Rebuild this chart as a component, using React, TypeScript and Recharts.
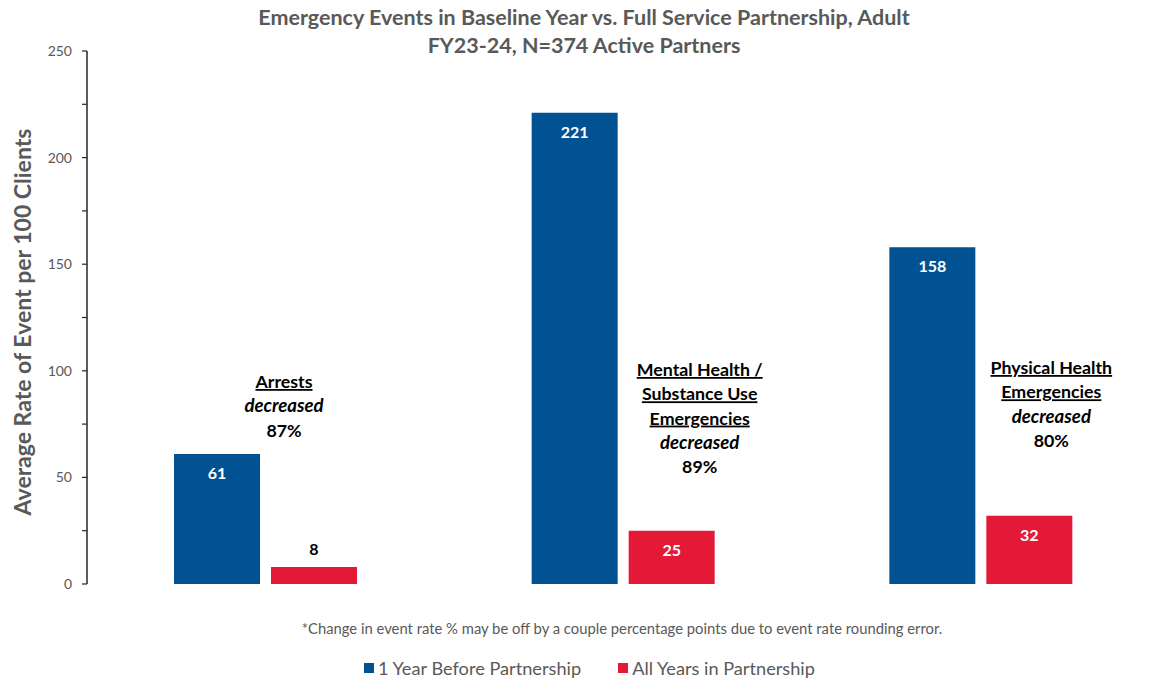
import React from "react";
import { BarChart, Bar, XAxis, YAxis, LabelList } from "recharts";

const categories = ["Arrests", "Mental Health / Substance Use Emergencies", "Physical Health Emergencies"];
const beforePartnership = [61, 221, 158];
const duringPartnership = [8, 25, 32];
const annotationTitles = [["Arrests"], ["Mental Health /", "Substance Use", "Emergencies"], ["Physical Health", "Emergencies"]];
const decreaseLabels = ["87%", "89%", "80%"];
const yTicks = [0, 25, 50, 75, 100, 125, 150, 175, 200, 225, 250];
const seriesNames = ["1 Year Before Partnership", "All Years in Partnership"];
const chartTitle = ["Emergency Events in Baseline Year vs. Full Service Partnership, Adult", "FY23-24, N=374 Active Partners"];
const yAxisTitle = "Average Rate of Event per 100 Clients";
const footnote = "*Change in event rate % may be off by a couple percentage points due to event rate rounding error.";

const data = categories.map((c, i) => ({ category: c, before: beforePartnership[i], during: duringPartnership[i] }));

const BLUE = "#005293";
const RED = "#E31937";
const GREY = "#595959";
const AXIS = "#262626";
const FONT = "Lato, 'Open Sans', sans-serif";

// layout offsets for the free-floating annotations (relative to right edge of blue bar)
const annotationDx = [24, 82, 76];
const annotationTop = [382, 370, 368];
const LINE_H = 24.3;

const BoundaryTick = (props: any) => {
  const { x, y, payload, index } = props;
  if (index >= categories.length - 1) return <g />;
  const half = payload && payload.offset != null ? payload.offset : 178.8;
  const bx = x + half;
  return <line x1={bx} x2={bx} y1={y - 6} y2={y} stroke={AXIS} strokeWidth={1.5} />;
};

const BeforeValueLabel = (props: any) => {
  const vb = props.viewBox || props;
  const { x, y, width } = vb;
  return (
    <text x={x + width / 2} y={y + 25} textAnchor="middle" fill="#fff" fontFamily={FONT} fontWeight={700} fontSize={16}>
      {props.value}
    </text>
  );
};

const DuringValueLabel = (props: any) => {
  const vb = props.viewBox || props;
  const { x, y, width, height } = vb;
  const inside = height > 30;
  return (
    <text
      x={x + width / 2}
      y={inside ? y + 25 : y - 12}
      textAnchor="middle"
      fill={inside ? "#fff" : "#000"}
      fontFamily={FONT}
      fontWeight={700}
      fontSize={16}
    >
      {props.value}
    </text>
  );
};

const AnnotationLabel = (props: any) => {
  const vb = props.viewBox || props;
  const { x, width } = vb;
  const i = props.index ?? 0;
  const cx = x + width + annotationDx[i];
  const top = annotationTop[i] + 6;
  const titles = annotationTitles[i];
  return (
    <g fontFamily={FONT} fontSize={17.8} fontWeight={700} fill="#000" textAnchor="middle">
      {titles.map((t, k) => (
        <text key={k} x={cx} y={top + k * LINE_H} style={{ textDecoration: "underline" }}>
          {t}
        </text>
      ))}
      <text x={cx} y={top + titles.length * LINE_H} fontStyle="italic" fontSize={18.6}>
        decreased
      </text>
      <text x={cx} y={top + (titles.length + 1) * LINE_H}>{decreaseLabels[i]}</text>
    </g>
  );
};

export default function App() {
  return (
    <div style={{ position: "absolute", left: 0, top: 0, width: 1150, height: 679, overflow: "hidden", background: "#fff", fontFamily: FONT }}>
      <div
        style={{
          position: "absolute",
          left: 234,
          width: 700,
          top: 3,
          textAlign: "center",
          color: GREY,
          fontWeight: 700,
          fontSize: 21.5,
          lineHeight: "28px",
        }}
      >
        <div style={{ whiteSpace: "nowrap" }}>{chartTitle[0]}</div>
        <div style={{ whiteSpace: "nowrap" }}>{chartTitle[1]}</div>
      </div>
      <BarChart
        width={1160}
        height={679}
        data={data}
        margin={{ top: 51, right: 0, bottom: 95, left: 0 }}
        barGap={11}
        barSize={86}
      >
        <YAxis
          width={87}
          domain={[0, 250]}
          ticks={yTicks}
          interval={0}
          tickFormatter={(v: number) => (v % 50 === 0 ? String(v) : "")}
          tick={{ fill: GREY, fontSize: 14, fontFamily: FONT }}
          tickSize={5}
          tickMargin={10}
          axisLine={{ stroke: AXIS, strokeWidth: 1.5 }}
          tickLine={{ stroke: AXIS, strokeWidth: 1.2 }}
        />
        <XAxis
          dataKey="category"
          height={0}
          tickSize={0}
          tickMargin={0}
          tickLine={false}
          interval={0}
          axisLine={{ stroke: AXIS, strokeWidth: 1.5 }}
          tick={<BoundaryTick />}
        />
        <Bar dataKey="before" name={seriesNames[0]} fill={BLUE} isAnimationActive={false}>
          <LabelList dataKey="before" content={<BeforeValueLabel />} />
          <LabelList dataKey="before" content={<AnnotationLabel />} />
        </Bar>
        <Bar dataKey="during" name={seriesNames[1]} fill={RED} isAnimationActive={false}>
          <LabelList dataKey="during" content={<DuringValueLabel />} />
        </Bar>
      </BarChart>
      <div
        style={{
          position: "absolute",
          left: 22 - 250,
          top: 322 - 15,
          width: 500,
          height: 30,
          lineHeight: "30px",
          textAlign: "center",
          transform: "rotate(-90deg)",
          color: GREY,
          fontWeight: 700,
          fontSize: 23,
          whiteSpace: "nowrap",
        }}
      >
        {yAxisTitle}
      </div>
      <div
        style={{
          position: "absolute",
          left: 222,
          width: 800,
          top: 618,
          textAlign: "center",
          color: GREY,
          fontSize: 14.8,
          lineHeight: "20px",
          whiteSpace: "nowrap",
          display: "flex",
          justifyContent: "center",
        }}
      >
        {footnote}
      </div>
      <div style={{ position: "absolute", left: 364, top: 657, display: "flex", alignItems: "center", color: GREY, fontSize: 18.2, lineHeight: "22px" }}>
        {seriesNames.map((n, i) => (
          <div key={n} style={{ display: "flex", alignItems: "center", marginRight: i === 0 ? 37 : 0 }}>
            <span style={{ display: "inline-block", width: 10, height: 10, background: i === 0 ? BLUE : RED, marginRight: 4 }} />
            <span>{n}</span>
          </div>
        ))}
      </div>
    </div>
  );
}
